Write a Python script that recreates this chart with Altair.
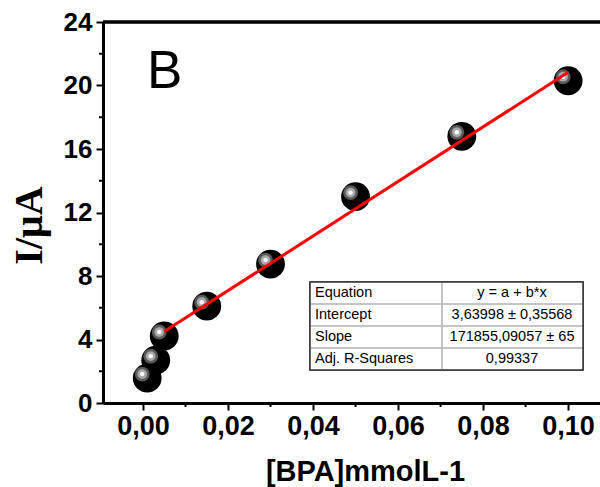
import altair as alt
import pandas as pd

# ---- data ----
bpa = [0.001, 0.003, 0.005, 0.015, 0.030, 0.050, 0.075, 0.100]
current = [1.57, 2.70, 4.22, 6.10, 8.75, 13.0, 16.8, 20.3]

fit_x = [0.005, 0.100]
fit_y = [4.50, 20.83]

x_major = [0.00, 0.02, 0.04, 0.06, 0.08, 0.10]
x_minor = [0.01, 0.03, 0.05, 0.07, 0.09]
y_major = [0, 4, 8, 12, 16, 20, 24]
y_minor = [2, 6, 10, 14, 18, 22]

tbl_labels = ["Equation", "Intercept", "Slope", "Adj. R-Squares"]
tbl_values = ["y = a + b*x", "3,63998 \u00b1 0,35568", "171855,09057 \u00b1 65", "0,99337"]

panel_label = "B"
x_title = "[BPA]mmolL-1"
y_title = "I/\u03bcA"

# ---- layout ----
W, H = 497, 381
PAD_L, PAD_T = 103, 22
SANS = "Liberation Sans"
SERIF = "Liberation Serif"

pts = pd.DataFrame({"x": bpa, "y": current})
fit = pd.DataFrame({"x": fit_x, "y": fit_y})
xm = pd.DataFrame({"x": x_minor})
ym = pd.DataFrame({"y": y_minor})

xscale = alt.Scale(domain=[-0.0094, 0.1075], nice=False, zero=False)
yscale = alt.Scale(domain=[0, 24], nice=False)

xaxis = alt.Axis(
    values=x_major,
    labelExpr="replace(format(datum.value, '.2f'), '.', ',')",
    labelFont=SANS, labelFontWeight="bold", labelFontSize=27, labelColor="black",
    labelPadding=3, labelFlush=False, labelOverlap=False,
    domainColor="black", domainWidth=3,
    tickColor="black", tickWidth=2, tickSize=7,
    grid=False,
    title=x_title, titleFont=SANS, titleFontWeight="bold", titleFontSize=29,
    titleColor="black", titleX=262, titleY=77, titleAlign="center",
    titleBaseline="alphabetic", titleAnchor="start",
)
yaxis = alt.Axis(
    values=y_major, format="d",
    labelFont=SANS, labelFontWeight="bold", labelFontSize=26, labelColor="black",
    labelPadding=4, labelFlush=False, labelOverlap=False,
    domainColor="black", domainWidth=3,
    tickColor="black", tickWidth=2, tickSize=7,
    grid=False,
    title=y_title, titleFont=SERIF, titleFontWeight="bold", titleFontSize=40,
    titleColor="black", titleAngle=270, titleX=-74, titleY=203,
    titleAlign="center", titleBaseline="middle", titleAnchor="start",
)

base = alt.Chart(pts)

balls = base.mark_circle(size=830, color="black", opacity=1).encode(
    x=alt.X("x:Q", scale=xscale, axis=xaxis),
    y=alt.Y("y:Q", scale=yscale, axis=yaxis),
)
hl1 = base.mark_circle(size=220, color="#5a5a5a", opacity=1, xOffset=-5, yOffset=-4).encode(
    x="x:Q", y="y:Q")
hl2 = base.mark_circle(size=95, color="#a8a8a8", opacity=1, xOffset=-5, yOffset=-4).encode(
    x="x:Q", y="y:Q")
hl3 = base.mark_circle(size=20, color="white", opacity=1, xOffset=-5, yOffset=-4).encode(
    x="x:Q", y="y:Q")

line = alt.Chart(fit).mark_line(color="#ff0000", strokeWidth=3).encode(x="x:Q", y="y:Q")

xminor = alt.Chart(xm).mark_rule(color="black", strokeWidth=2).encode(
    x="x:Q", y=alt.value(H), y2=alt.value(H + 4))
yminor = alt.Chart(ym).mark_rule(color="black", strokeWidth=2).encode(
    y="y:Q", x=alt.value(-4), x2=alt.value(0))

top = alt.Chart(fit).mark_rule(color="black", strokeWidth=3).encode(
    x=alt.value(0), x2=alt.value(W), y=alt.value(0))

label_b = alt.Chart(pd.DataFrame({"t": [panel_label]})).mark_text(
    font=SANS, fontSize=53, align="left", baseline="alphabetic", color="black"
).encode(x=alt.value(44), y=alt.value(66), text="t:N")

# table
tbl_box = alt.Chart(fit).mark_rect(fill="white", stroke="#333333", strokeWidth=1.5).encode(
    x=alt.value(207), x2=alt.value(480), y=alt.value(260), y2=alt.value(348))
layers = [xminor, yminor, top, balls, hl1, hl2, hl3, line, label_b, tbl_box]
for yy in [282, 304, 326]:
    layers.append(alt.Chart(fit).mark_rule(color="#c0c0c0", strokeWidth=1.5).encode(
        x=alt.value(208), x2=alt.value(479), y=alt.value(yy)))
layers.append(alt.Chart(fit).mark_rule(color="#c0c0c0", strokeWidth=1.5).encode(
    x=alt.value(339), y=alt.value(261), y2=alt.value(347)))
for i, (lab, val) in enumerate(zip(tbl_labels, tbl_values)):
    yy = 271 + 22 * i
    d = pd.DataFrame({"lab": [lab], "val": [val]})
    layers.append(alt.Chart(d).mark_text(font=SANS, fontSize=14.5, align="left",
                                         baseline="middle", color="black").encode(
        x=alt.value(212), y=alt.value(yy), text="lab:N"))
    layers.append(alt.Chart(d).mark_text(font=SANS, fontSize=14.5, align="center",
                                         baseline="middle", color="black").encode(
        x=alt.value(409), y=alt.value(yy), text="val:N"))

chart = alt.layer(*layers).properties(
    width=W, height=H,
    autosize=alt.AutoSizeParams(type="none"),
    padding={"left": PAD_L, "top": PAD_T, "right": 0, "bottom": 487 - PAD_T - H},
    background="white",
).configure_view(stroke=None)

chart.save("out.html", embed_options={"renderer": "svg", "actions": False})
